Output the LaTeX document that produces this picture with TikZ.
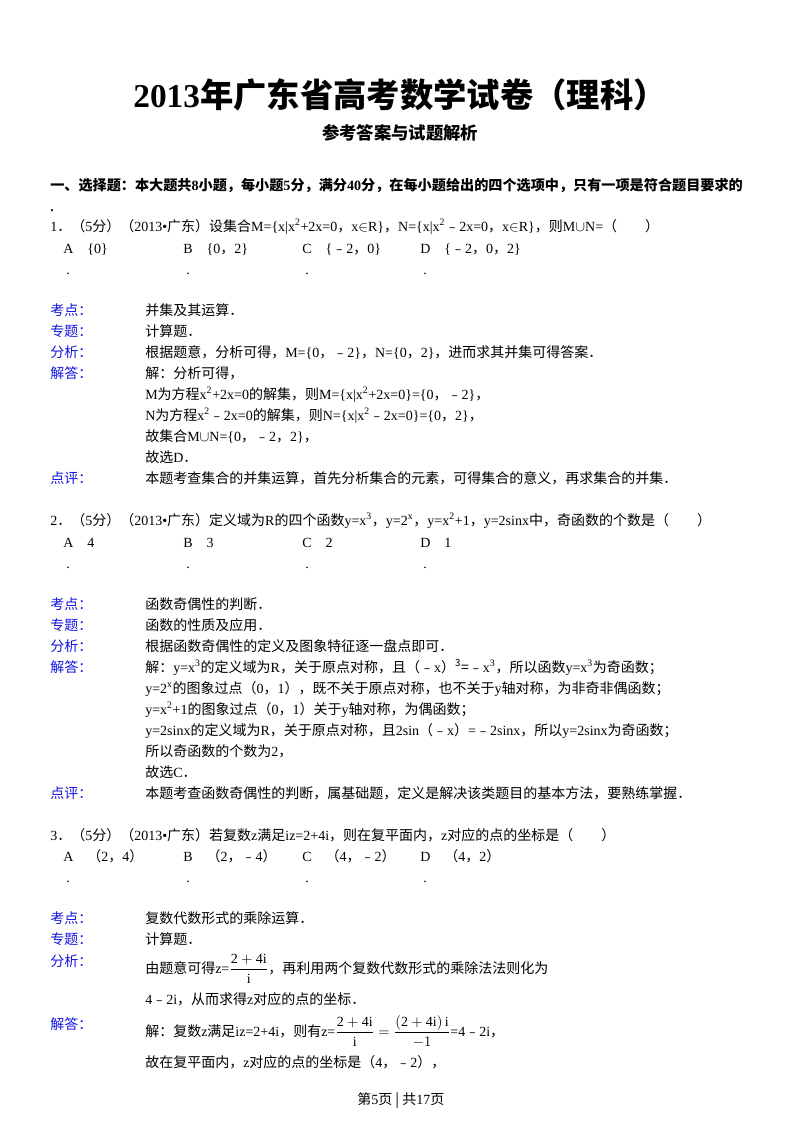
\documentclass[tikz,border=0pt]{standalone}
\usepackage{fontspec}
\setmainfont{Liberation Serif}
\newfontfamily\cjk{Noto Sans CJK SC}
\XeTeXinterchartokenstate=1
\newXeTeXintercharclass\cjkclass
\newcount\cc
\cc="4E00 \loop \XeTeXcharclass\cc=\cjkclass \advance\cc 1 \ifnum\cc<"A000 \repeat
\cc="3000 \loop \XeTeXcharclass\cc=\cjkclass \advance\cc 1 \ifnum\cc<"3040 \repeat
\cc="FF00 \loop \XeTeXcharclass\cc=\cjkclass \advance\cc 1 \ifnum\cc<"FFF0 \repeat
\XeTeXcharclass"FE63=\cjkclass
\XeTeXinterchartoks 0 \cjkclass = {\cjk}
\XeTeXinterchartoks 4095 \cjkclass = {\cjk}
\XeTeXinterchartoks \cjkclass 0 = {\rmfamily}
\definecolor{lab}{RGB}{20,20,225}
\begin{document}
\begin{tikzpicture}[x=0.75pt,y=-0.75pt,
  txt/.style={anchor=base west,inner sep=0pt,font=\fontsize{10.5}{12}\selectfont},
  lab/.style={txt,text=lab}]
\useasboundingbox[fill=white] (0,0) rectangle (800,1132);
\node[inner sep=0,font=\fontsize{25}{28}\selectfont\bfseries] (title) at (400,95) {2013年广东省高考数学试卷（理科）};
\node[inner sep=0,font=\fontsize{13}{15}\selectfont\bfseries] (sub) at (400,133) {参考答案与试题解析};
\node[txt,font=\fontsize{10.6}{12}\selectfont\bfseries] (sec) at (50,190) {一、选择题：本大题共8小题，每小题5分，满分40分，在每小题给出的四个选项中，只有一项是符合题目要求的};
\node[txt,font=\bfseries] (secdot) at (50,211) {.};
% Q1
\node[txt] (q1) at (50,231) {1．（5分）（2013•广东）设集合M=\{x|x\textsuperscript{2}+2x=0，x$\in$R\}，N=\{x|x\textsuperscript{2}﹣2x=0，x$\in$R\}，则M$\cup$N=（\quad\quad）};
\node[txt] (q1a) at (63,253) {A\quad\{0\}};
\node[txt] (q1b) at (183,253) {B\quad\{0，2\}};
\node[txt] (q1c) at (302,253) {C\quad\{﹣2，0\}};
\node[txt] (q1d) at (420,253) {D\quad\{﹣2，0，2\}};
\foreach \x/\n in {66/a,186/b,305/c,423/d}{\node[txt] (q1dot\n) at (\x,274) {.};}
\node[lab] (k1) at (50,315) {考点：};
\node[txt] (k1t) at (145,315) {并集及其运算．};
\node[lab] (z1) at (50,336) {专题：};
\node[txt] (z1t) at (145,336) {计算题．};
\node[lab] (f1) at (50,357) {分析：};
\node[txt] (f1t) at (145,357) {根据题意，分析可得，M=\{0，﹣2\}，N=\{0，2\}，进而求其并集可得答案．};
\node[lab] (j1) at (50,378) {解答：};
\node[txt] (j1a) at (145,378) {解：分析可得，};
\node[txt] (j1b) at (145,399) {M为方程x\textsuperscript{2}+2x=0的解集，则M=\{x|x\textsuperscript{2}+2x=0\}=\{0，﹣2\}，};
\node[txt] (j1c) at (145,420) {N为方程x\textsuperscript{2}﹣2x=0的解集，则N=\{x|x\textsuperscript{2}﹣2x=0\}=\{0，2\}，};
\node[txt] (j1d) at (145,441) {故集合M$\cup$N=\{0，﹣2，2\}，};
\node[txt] (j1e) at (145,462) {故选D．};
\node[lab] (d1) at (50,483) {点评：};
\node[txt] (d1t) at (145,483) {本题考查集合的并集运算，首先分析集合的元素，可得集合的意义，再求集合的并集．};
% Q2
\node[txt] (q2) at (50,525) {2．（5分）（2013•广东）定义域为R的四个函数y=x\textsuperscript{3}，y=2\textsuperscript{x}，y=x\textsuperscript{2}+1，y=2sinx中，奇函数的个数是（\quad\quad）};
\node[txt] (q2a) at (63,547) {A\quad 4};
\node[txt] (q2b) at (183,547) {B\quad 3};
\node[txt] (q2c) at (302,547) {C\quad 2};
\node[txt] (q2d) at (420,547) {D\quad 1};
\foreach \x/\n in {66/a,186/b,305/c,423/d}{\node[txt] (q2dot\n) at (\x,568) {.};}
\node[lab] (k2) at (50,609) {考点：};
\node[txt] (k2t) at (145,609) {函数奇偶性的判断．};
\node[lab] (z2) at (50,630) {专题：};
\node[txt] (z2t) at (145,630) {函数的性质及应用．};
\node[lab] (f2) at (50,651) {分析：};
\node[txt] (f2t) at (145,651) {根据函数奇偶性的定义及图象特征逐一盘点即可．};
\node[lab] (j2) at (50,672) {解答：};
\node[txt] (j2a) at (145,672) {解：y=x\textsuperscript{3}的定义域为R，关于原点对称，且（﹣x）\textsuperscript{3}=﹣x\textsuperscript{3}，所以函数y=x\textsuperscript{3}为奇函数；};
\node[txt] (j2b) at (145,693) {y=2\textsuperscript{x}的图象过点（0，1），既不关于原点对称，也不关于y轴对称，为非奇非偶函数；};
\node[txt] (j2c) at (145,714) {y=x\textsuperscript{2}+1的图象过点（0，1）关于y轴对称，为偶函数；};
\node[txt] (j2d) at (145,735) {y=2sinx的定义域为R，关于原点对称，且2sin（﹣x）=﹣2sinx，所以y=2sinx为奇函数；};
\node[txt] (j2e) at (145,756) {所以奇函数的个数为2，};
\node[txt] (j2f) at (145,777) {故选C．};
\node[lab] (d2) at (50,798) {点评：};
\node[txt] (d2t) at (145,798) {本题考查函数奇偶性的判断，属基础题，定义是解决该类题目的基本方法，要熟练掌握．};
% Q3
\node[txt] (q3) at (50,840) {3．（5分）（2013•广东）若复数z满足iz=2+4i，则在复平面内，z对应的点的坐标是（\quad\quad）};
\node[txt] (q3a) at (63,861) {A\quad（2，4）};
\node[txt] (q3b) at (183,861) {B\quad（2，﹣4）};
\node[txt] (q3c) at (302,861) {C\quad（4，﹣2）};
\node[txt] (q3d) at (420,861) {D\quad（4，2）};
\foreach \x/\n in {66/a,186/b,305/c,423/d}{\node[txt] (q3dot\n) at (\x,882) {.};}
\node[lab] (k3) at (50,923) {考点：};
\node[txt] (k3t) at (145,923) {复数代数形式的乘除运算．};
\node[lab] (z3) at (50,944) {专题：};
\node[txt] (z3t) at (145,944) {计算题．};
\node[lab] (f3) at (50,966) {分析：};
\node[txt] (f3t) at (145,973) {由题意可得z=$\displaystyle\frac{\mathrm{2+4i}}{\mathrm{i}}$，再利用两个复数代数形式的乘除法法则化为};
\node[txt] (f3u) at (145,1004) {4﹣2i，从而求得z对应的点的坐标．};
\node[lab] (j3) at (50,1029) {解答：};
\node[txt] (j3a) at (145,1036) {解：复数z满足iz=2+4i，则有z=$\displaystyle\frac{\mathrm{2+4i}}{\mathrm{i}}=\frac{\mathrm{(2+4i)\,i}}{-1}$=4﹣2i，};
\node[txt] (j3b) at (145,1067) {故在复平面内，z对应的点的坐标是（4，﹣2），};
\node[txt] (foot) at (357,1104) {第5页 | 共17页};
\end{tikzpicture}
\end{document}
